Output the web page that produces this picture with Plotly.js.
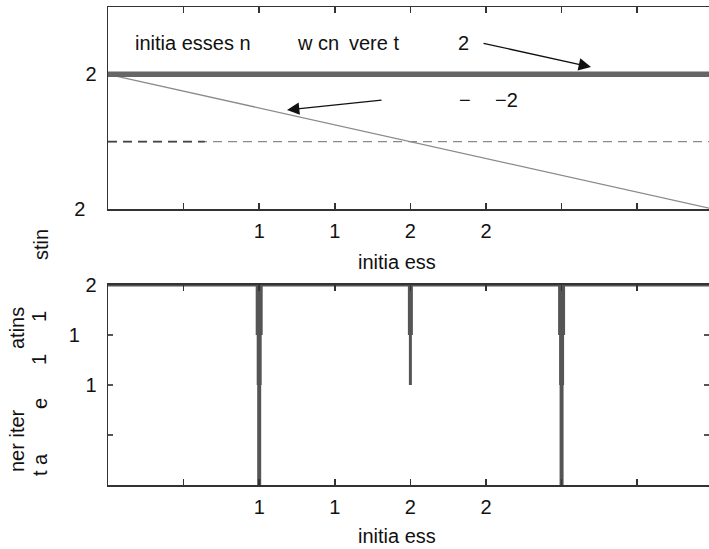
<!DOCTYPE html>
<html><head><meta charset="utf-8">
<script src="https://cdn.plot.ly/plotly-3.0.1.min.js"></script>
<style>html,body{margin:0;padding:0;background:#fff}</style>
</head><body><div id="chart" style="width:709px;height:549px"></div>
<script>
// ---- data ----
const xTickVals = [5, 10, 15, 20, 25, 30, 35];
const xTickText = ["", "1", "1", "2", "2", "", ""];
const topTickVals = [0, 2];
const topTickText = ["2\u00a0\u00a0", "2"];
const botTickVals = [0, 5, 10, 15, 20];
const botTickText = ["", "", "1", "1\u00a0\u00a0\u00a0", "2"];

const pressX = [0, 40];
const steadyY = [2, 2];          // converged (thick) line
const decayY = [2, 0];           // falling thin line
const refY = [1, 1];             // dashed reference
const refDarkX = [0, 6.4];
const iterBaseX = [0, 40];
const iterBaseY = [20, 20];
const spikeX = [10, 20, 30];
const spikeMin = [0, 10, 0];
const spikeLevels = [20, 15, 10, 0];

// ---- geometry helpers (pixel -> paper) ----
const L = 108, R = 709, T = 7, B = 485;
const px = v => (v - L) / (R - L);
const py = v => (B - v) / (B - T);

const FONT = "Liberation Sans, Arial, Helvetica, sans-serif";
const FS = 20;
const dark = "#333";

const traces = [
  {x: pressX, y: refY, xaxis: "x", yaxis: "y", mode: "lines",
   line: {color: "#8a8a8a", width: 1.3, dash: "9px,6px"}, hoverinfo: "skip"},
  {x: refDarkX, y: [refY[0], refY[1]], xaxis: "x", yaxis: "y", mode: "lines",
   line: {color: "#444", width: 1.8, dash: "9px,6px"}, hoverinfo: "skip"},
  {x: pressX, y: decayY, xaxis: "x", yaxis: "y", mode: "lines",
   line: {color: "#8a8a8a", width: 1.3}, hoverinfo: "skip"},
  {x: pressX, y: steadyY, xaxis: "x", yaxis: "y", mode: "lines",
   line: {color: "#666", width: 5.5}, hoverinfo: "skip"},
  {x: iterBaseX, y: iterBaseY, xaxis: "x2", yaxis: "y2", mode: "lines",
   line: {color: "#555", width: 3}, hoverinfo: "skip"}
];
const segWidths = [7, 5, 4];
spikeX.forEach((sx, i) => {
  for (let j = 0; j < spikeLevels.length - 1; j++) {
    const hi = spikeLevels[j];
    if (hi <= spikeMin[i]) break;
    const lo = Math.max(spikeLevels[j + 1], spikeMin[i]);
    traces.push({x: [sx, sx], y: [hi, lo], xaxis: "x2", yaxis: "y2", mode: "lines",
      line: {color: "#555", width: (i === 1 ? segWidths[j] - 2 : segWidths[j])}, hoverinfo: "skip"});
  }
});

const xCommon = {
  range: [0, 39.75], tickmode: "array", tickvals: xTickVals, ticktext: xTickText,
  ticks: "inside", ticklen: 6, tickwidth: 1.5, tickcolor: dark,
  showline: true, linecolor: dark, linewidth: 1.5, mirror: "ticks",
  showgrid: false, zeroline: false, ticklabelstandoff: 3,
  tickfont: {family: FONT, size: FS, color: "#111"}
};

const ann = [];
function txt(x, y, s, opts) {
  ann.push(Object.assign({xref: "paper", yref: "paper", x: px(x), y: py(y), text: s,
    showarrow: false, xanchor: "left", yanchor: "middle",
    font: {family: FONT, size: FS, color: "#111"}}, opts || {}));
}
function rot(x, y, s) { txt(x, y, s, {xanchor: "center", yanchor: "middle", textangle: -90}); }
function arrow(tx, ty, fx, fy) {
  ann.push({xref: "paper", yref: "paper", x: px(tx), y: py(ty), ax: fx - tx, ay: fy - ty,
    text: "", showarrow: true, arrowhead: 2, arrowsize: 1.9, arrowwidth: 1.3,
    arrowcolor: "#111", standoff: 0, startstandoff: 0});
}
txt(133, 43, "initia esses n");
txt(295, 43, "w cn");
txt(347, 43, "vere t");
txt(456, 43, "2");
txt(457, 100, "\u2212");
txt(493, 100, "\u22122");
arrow(591, 67, 482, 43);
arrow(287, 110, 383, 100);
// axis titles (garbled, placed as drawn)
txt(397, 262, "initia ess", {xanchor: "center"});
txt(397, 536, "initia ess", {xanchor: "center"});
rot(41, 245, "stin");
rot(17, 328, "atins");
rot(17, 441, "ner iter");
rot(39, 317, "1");
rot(39, 360, "1");
rot(40, 404, "e");
rot(40, 465, "t a");

const layout = {
  width: 709, height: 549,
  margin: {l: L, r: 709 - R, t: T, b: 549 - B},
  paper_bgcolor: "#fff", plot_bgcolor: "#fff",
  showlegend: false,
  font: {family: FONT, size: FS, color: "#111"},
  xaxis: Object.assign({}, xCommon, {anchor: "y"}),
  xaxis2: Object.assign({}, xCommon, {anchor: "y2", linewidth: 2}),
  yaxis: {domain: [py(209), 1], range: [0, 3], tickmode: "array", tickvals: topTickVals,
    ticktext: topTickText, ticks: "", showline: true, linecolor: dark, linewidth: 1.5,
    mirror: true, showgrid: false, zeroline: false, ticklabelstandoff: 6,
    tickfont: {family: FONT, size: FS, color: "#111"}},
  yaxis2: {domain: [0, py(285)], range: [0, 20], tickmode: "array", tickvals: botTickVals,
    ticktext: botTickText, ticks: "inside", ticklen: 5, tickwidth: 1.5, tickcolor: "#555",
    showline: true, linecolor: dark, linewidth: 1.5, mirror: "ticks",
    showgrid: false, zeroline: false, ticklabelstandoff: 6,
    tickfont: {family: FONT, size: FS, color: "#111"}},
  annotations: ann
};

Plotly.newPlot("chart", traces, layout, {staticPlot: true, displayModeBar: false});
</script>
</body></html>
